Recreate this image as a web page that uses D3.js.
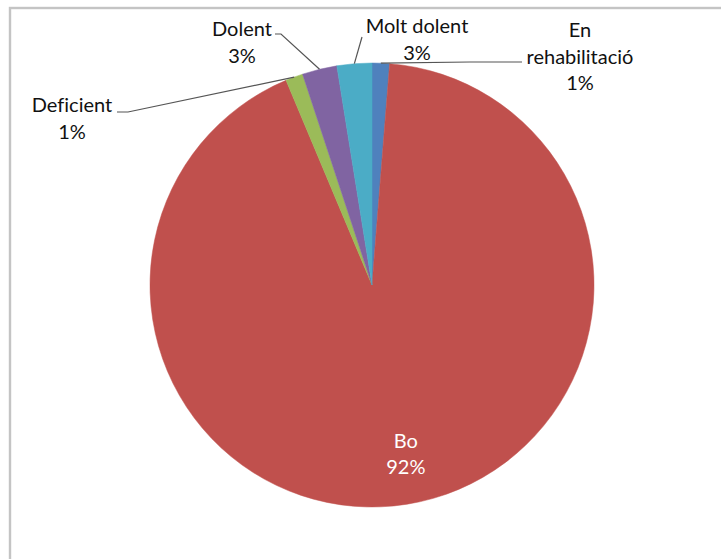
<!DOCTYPE html>
<html>
<head>
<meta charset="utf-8">
<script src="https://cdn.jsdelivr.net/npm/d3@7"></script>
<style>
  html, body { margin: 0; padding: 0; background: #fff; }
  svg { display: block; }
  text { font-family: Lato, "Open Sans", sans-serif; font-size: 20px; font-variant-ligatures: none; }
</style>
</head>
<body>
<svg id="chart"></svg>
<script>
// slices, clockwise from 12 o'clock
var categories = ["En rehabilitació", "Bo", "Deficient", "Dolent", "Molt dolent"];
var values = [5, 365, 5, 10, 10];
var colors = ["#4F81BD", "#C0504D", "#9BBB59", "#8064A2", "#4BACC6"];

var width = 721;
var height = 559;

var svg = d3.select("#chart")
    .attr("width", width)
    .attr("height", height);

// chart area frame (only left and top edges show)
svg.append("rect")
    .attr("x", 10)
    .attr("y", 8)
    .attr("width", 760)
    .attr("height", 600)
    .attr("fill", "#fff")
    .attr("stroke", "#c4c4c4")
    .attr("stroke-width", 2.4);

var cx = 372, cy = 285, radius = 222;
var total = d3.sum(values);

var data = categories.map(function(c, i) {
    return { name: c, value: values[i], color: colors[i] };
});

var pie = d3.pie()
    .sort(null)
    .value(function(d) { return d.value; });

var arc = d3.arc()
    .innerRadius(0)
    .outerRadius(radius);

var g = svg.append("g")
    .attr("transform", "translate(" + cx + "," + cy + ")");

var arcs = pie(data);

g.selectAll("path")
    .data(arcs)
    .enter().append("path")
    .attr("d", arc)
    .attr("fill", function(d) { return d.data.color; })
    .attr("stroke", function(d) { return d.data.color; })
    .attr("stroke-width", 0.5);

// label placement, like excel's best fit
var labelLayout = {
    "En rehabilitació": { x: 580, y: 37, lines: ["En", "rehabilitació"], leader: [[470, 62], [522, 62]] },
    "Bo": { inside: true, r: 176, dx: 6, lines: ["Bo"] },
    "Deficient": { x: 72, y: 112, lines: ["Deficient"], leader: [[128, 112], [117, 112]] },
    "Dolent": { x: 242, y: 36, lines: ["Dolent"], leader: [[281, 34], [275, 34]] },
    "Molt dolent": { x: 417, y: 33, lines: ["Molt dolent"], leader: [[362, 37]] }
};

var lineH = 26.5;

arcs.forEach(function(d) {
    var lay = labelLayout[d.data.name];
    var pct = Math.round(d.data.value / total * 100) + "%";
    var mid = (d.startAngle + d.endAngle) / 2;
    var lines = lay.lines.concat([pct]);

    if (lay.inside) {
        var px = cx + lay.r * Math.sin(mid) + lay.dx;
        var py = cy - lay.r * Math.cos(mid);
        var t = svg.append("text")
            .attr("text-anchor", "middle")
            .attr("fill", "#fff");
        lines.forEach(function(l, i) {
            t.append("tspan")
                .attr("x", px)
                .attr("y", py + 2 + (i - (lines.length - 1) / 2) * lineH)
                .text(l);
        });
        return;
    }

    // leader line from middle of the slice edge
    var ax = cx + radius * Math.sin(mid);
    var ay = cy - radius * Math.cos(mid);
    var pts = [[ax, ay]].concat(lay.leader);
    svg.append("path")
        .attr("d", d3.line()(pts))
        .attr("fill", "none")
        .attr("stroke", "#555")
        .attr("stroke-width", 1.2);

    var t2 = svg.append("text")
        .attr("text-anchor", "middle")
        .attr("fill", "#111");
    lines.forEach(function(l, i) {
        t2.append("tspan")
            .attr("x", lay.x)
            .attr("y", lay.y + i * lineH)
            .text(l);
    });
});
</script>
</body>
</html>
